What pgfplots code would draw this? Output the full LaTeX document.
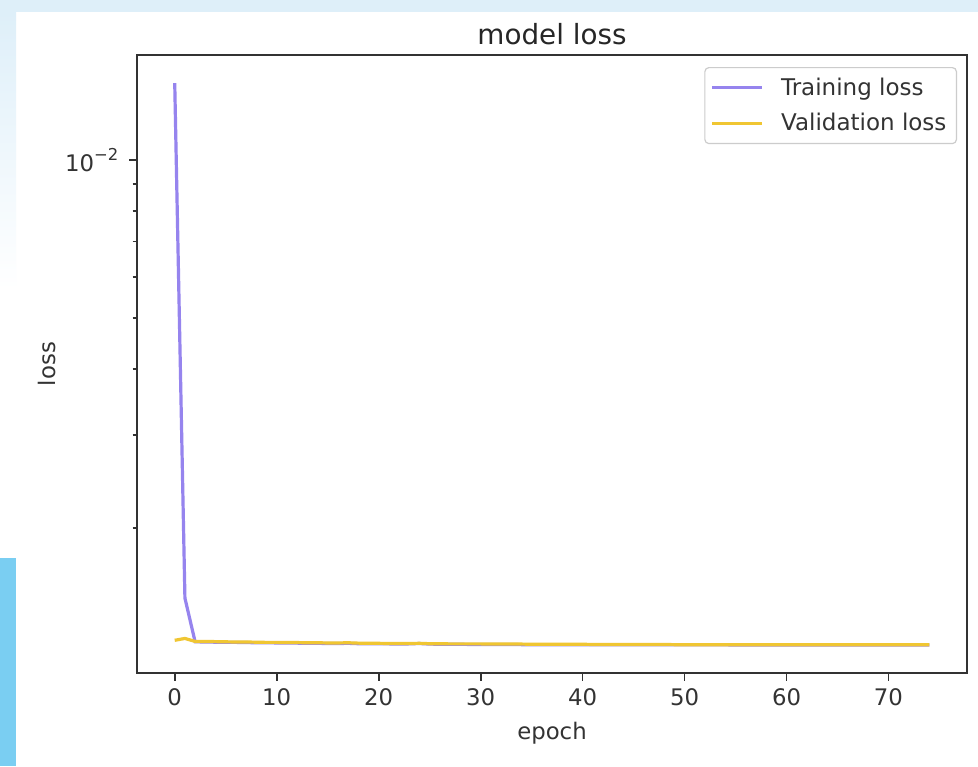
\documentclass[border=0pt]{standalone}
\usepackage{fontspec}
\setmainfont{DejaVu Sans}
\usepackage{pgfplots}
\pgfplotsset{compat=1.18}
\usepackage{xcolor}

\definecolor{trainc}{RGB}{150,132,238}
\definecolor{valc}{RGB}{240,198,50}
\definecolor{bgblue}{RGB}{222,239,249}
\definecolor{barblue}{RGB}{122,206,242}
\definecolor{spine}{RGB}{50,50,50}

\begin{document}
\begin{tikzpicture}[x=0.5pt,y=0.5pt]
% page frame around the figure
\useasboundingbox (0,0) rectangle (978,766);
\fill[white] (0,0) rectangle (978,766);
\fill[bgblue] (0,754) rectangle (978,766);
\shade[top color=bgblue, bottom color=white] (0,476) rectangle (16,754);
\fill[barblue] (0,0) rectangle (16,208);

\begin{axis}[
  at={(68.5pt,46.5pt)}, anchor=south west,
  scale only axis,
  width=415pt, height=309pt,
  ymode=log,
  xmin=-3.7, xmax=77.7,
  ymin=0.001059, ymax=0.01583,
  xtick={0,10,20,30,40,50,60,70},
  ytick={0.01},
  yticklabels={10\raisebox{0.5em}{\fontsize{8.2}{8}\selectfont −2}},
  minor ytick={0.002,0.003,0.004,0.005,0.006,0.007,0.008,0.009},
  tick pos=left,
  tick align=outside,
  major tick length=3.85pt,
  minor tick length=2.2pt,
  every tick/.style={spine, line width=0.88pt},
  axis line style={spine, line width=0.88pt},
  /pgf/number format/assume math mode=true,
  tick label style={font=\fontsize{11.4}{13}\selectfont, text=black!80},
  xticklabel style={anchor=base, yshift=-12.5pt},
  yticklabel style={anchor=east, xshift=-2pt},
  title={model loss},
  title style={font=\fontsize{13.9}{16}\selectfont, text=black!85, at={(0.5,1)}, anchor=base, yshift=-0.5pt},
  xlabel={epoch},
  xlabel style={font=\fontsize{11.4}{13}\selectfont, text=black!80, at={(0.5,0)}, anchor=base, yshift=-33pt},
  ylabel={loss},
  ylabel style={font=\fontsize{11.4}{13}\selectfont, text=black!80, at={(0,0.5)}, anchor=center, yshift=45pt},
  legend cell align=left,
  legend style={at={(1,1)}, anchor=north east, xshift=-5pt, yshift=-6pt,
    draw=black!20, rounded corners=2pt, line width=0.6pt,
    font=\fontsize{11.5}{13}\selectfont, text=black!80,
    inner xsep=3pt, inner ysep=3pt, row sep=3.5pt,
    /tikz/every odd column/.append style={column sep=6.5pt}},
  legend image code/.code={\draw[#1] (0pt,0pt) -- (25pt,0pt);},
]
\addplot[trainc, line width=1.6pt] coordinates {
(0,0.0140) (1,0.00147) (2,0.001214) (3,0.001213) (4,0.001212) (5,0.001211)
(6,0.001211) (7,0.001210) (8,0.001209) (9,0.001209) (10,0.001208) (11,0.001207)
(12,0.001207) (13,0.001206) (14,0.001206) (15,0.001205) (16,0.001205) (17,0.001206)
(18,0.001204) (19,0.001203) (20,0.001203) (21,0.001203) (22,0.001202) (23,0.001203)
(24,0.001205) (25,0.001202) (26,0.001201) (27,0.001201) (28,0.001201) (29,0.001200)
(30,0.001200) (31,0.001200) (32,0.001200) (33,0.001200) (34,0.001199) (35,0.001199)
(36,0.001199) (37,0.001199) (38,0.001199) (39,0.001199) (40,0.001199) (41,0.001199)
(42,0.001198) (43,0.001198) (44,0.001198) (45,0.001198) (46,0.001198) (47,0.001198)
(48,0.001198) (49,0.001198) (50,0.001198) (51,0.001198) (52,0.001198) (53,0.001198)
(54,0.001198) (55,0.001197) (56,0.001197) (57,0.001197) (58,0.001197) (59,0.001197)
(60,0.001197) (61,0.001197) (62,0.001197) (63,0.001197) (64,0.001197) (65,0.001197)
(66,0.001197) (67,0.001197) (68,0.001197) (69,0.001197) (70,0.001197) (71,0.001197)
(72,0.001197) (73,0.001197) (74,0.001197)
};
\addlegendentry{Training loss}
\addplot[valc, line width=1.6pt] coordinates {
(0,0.001222) (1,0.001232) (2,0.001216) (3,0.001216) (4,0.001215) (5,0.001214)
(6,0.001213) (7,0.001213) (8,0.001212) (9,0.001211) (10,0.001211) (11,0.001210)
(12,0.001210) (13,0.001209) (14,0.001209) (15,0.001208) (16,0.001208) (17,0.001209)
(18,0.001207) (19,0.001206) (20,0.001206) (21,0.001205) (22,0.001205) (23,0.001205)
(24,0.001206) (25,0.001204) (26,0.001204) (27,0.001203) (28,0.001203) (29,0.001203)
(30,0.001203) (31,0.001202) (32,0.001202) (33,0.001202) (34,0.001202) (35,0.001201)
(36,0.001201) (37,0.001201) (38,0.001201) (39,0.001201) (40,0.001201) (41,0.001200)
(42,0.001200) (43,0.001200) (44,0.001200) (45,0.001200) (46,0.001200) (47,0.001200)
(48,0.001200) (49,0.001199) (50,0.001199) (51,0.001199) (52,0.001199) (53,0.001199)
(54,0.001199) (55,0.001199) (56,0.001199) (57,0.001199) (58,0.001199) (59,0.001198)
(60,0.001198) (61,0.001198) (62,0.001198) (63,0.001198) (64,0.001198) (65,0.001198)
(66,0.001198) (67,0.001198) (68,0.001198) (69,0.001198) (70,0.001198) (71,0.001198)
(72,0.001198) (73,0.001198) (74,0.001198)
};
\addlegendentry{Validation loss}
\end{axis}
\end{tikzpicture}
\end{document}
